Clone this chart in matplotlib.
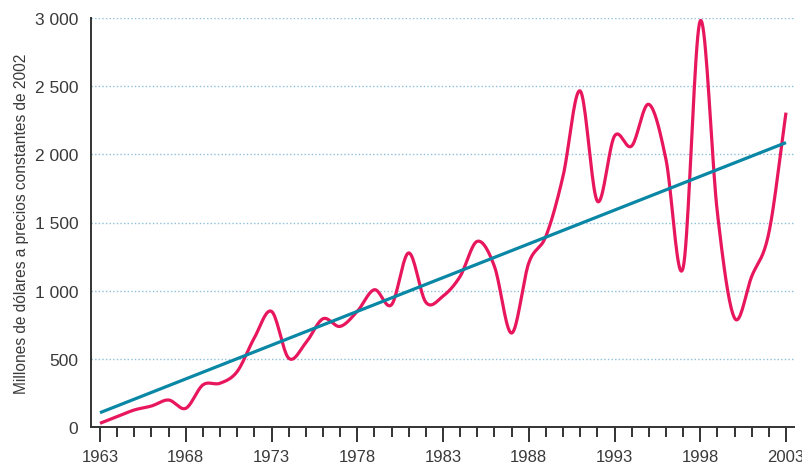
import numpy as np
import matplotlib
matplotlib.use("Agg")
import matplotlib.pyplot as plt
from matplotlib import font_manager
from matplotlib.ticker import FuncFormatter, MultipleLocator

# Annual values, millions of constant 2002 dollars
years = list(range(1963, 2004))
values = [27, 76, 125, 154, 198, 137, 309, 321, 407, 654,
          848, 505, 617, 794, 738, 848, 1007, 897, 1277, 915,
          960, 1105, 1362, 1178, 689, 1203, 1399, 1840, 2465, 1656,
          2134, 2061, 2367, 1963, 1167, 2980, 1571, 799, 1105, 1424,
          2306]

# Linear trend, start and end values
trend_years = [1963, 2003]
trend_values = [105, 2086]

y_ticks = [0, 500, 1000, 1500, 2000, 2500, 3000]
x_major = list(range(1963, 2004, 5))

ylabel = "Millones de dólares a precios constantes de 2002"

names = {f.name for f in font_manager.fontManager.ttflist}
family = ["Liberation Sans Narrow"] if "Liberation Sans Narrow" in names else ["Liberation Sans"]
plt.rcParams["font.family"] = family + ["DejaVu Sans"]

text_color = "#3a3a3a"
pink = "#E8175D"
teal = "#0A87A5"


def smooth(x, y, n=20):
    """Cubic Hermite spline through the yearly points."""
    x = np.asarray(x, float)
    y = np.asarray(y, float)
    xs, ys = [], []
    m = np.gradient(y, x)
    for i in range(len(x) - 1):
        h = x[i + 1] - x[i]
        t = np.linspace(0, 1, n, endpoint=False)
        h00 = 2 * t**3 - 3 * t**2 + 1
        h10 = t**3 - 2 * t**2 + t
        h01 = -2 * t**3 + 3 * t**2
        h11 = t**3 - t**2
        xs.append(x[i] + t * h)
        ys.append(h00 * y[i] + h10 * h * m[i] + h01 * y[i + 1] + h11 * h * m[i + 1])
    xs.append([x[-1]])
    ys.append([y[-1]])
    return np.concatenate(xs), np.concatenate(ys)


fig = plt.figure(figsize=(8.03, 4.64), dpi=100)
W, H = 803, 464
ax = fig.add_axes([91 / W, 1 - 428 / H, (794 - 91) / W, (428 - 19) / H])

ax.set_xlim(1963 - 9 / 17.15, 2003 + 8 / 17.15)
ax.set_ylim(0, 3000)

for v in y_ticks[1:]:
    ax.axhline(v, color="#8cc0dc", lw=1.0, ls=(0, (1, 1.6)), zorder=1)

sx, sy = smooth(years, values)
ax.plot(sx, sy, color=pink, lw=2.3, zorder=3, solid_capstyle="butt")
ax.plot(trend_years, trend_values, color=teal, lw=2.3, zorder=4, solid_capstyle="butt")

for s in ["top", "right"]:
    ax.spines[s].set_visible(False)
for s in ["left", "bottom"]:
    ax.spines[s].set_color("#333333")
    ax.spines[s].set_linewidth(1.4)

ax.set_yticks(y_ticks)
ax.yaxis.set_major_formatter(FuncFormatter(lambda v, p: f"{int(v):,}".replace(",", " ")))
ax.tick_params(axis="y", length=0, pad=9, labelsize=12.5, labelcolor=text_color)

ax.set_xticks(x_major)
ax.xaxis.set_minor_locator(MultipleLocator(1))
ax.tick_params(axis="x", which="major", direction="out", length=11, width=1.4,
               color="#333333", pad=5, labelsize=12, labelcolor=text_color)
ax.tick_params(axis="x", which="minor", direction="out", length=7, width=1.4,
               color="#333333")

fig.text(22 / W, 1 - 224 / H, ylabel, rotation=90, ha="center", va="center",
         fontsize=11.2, color=text_color)

fig.savefig("out.png", dpi=100)
